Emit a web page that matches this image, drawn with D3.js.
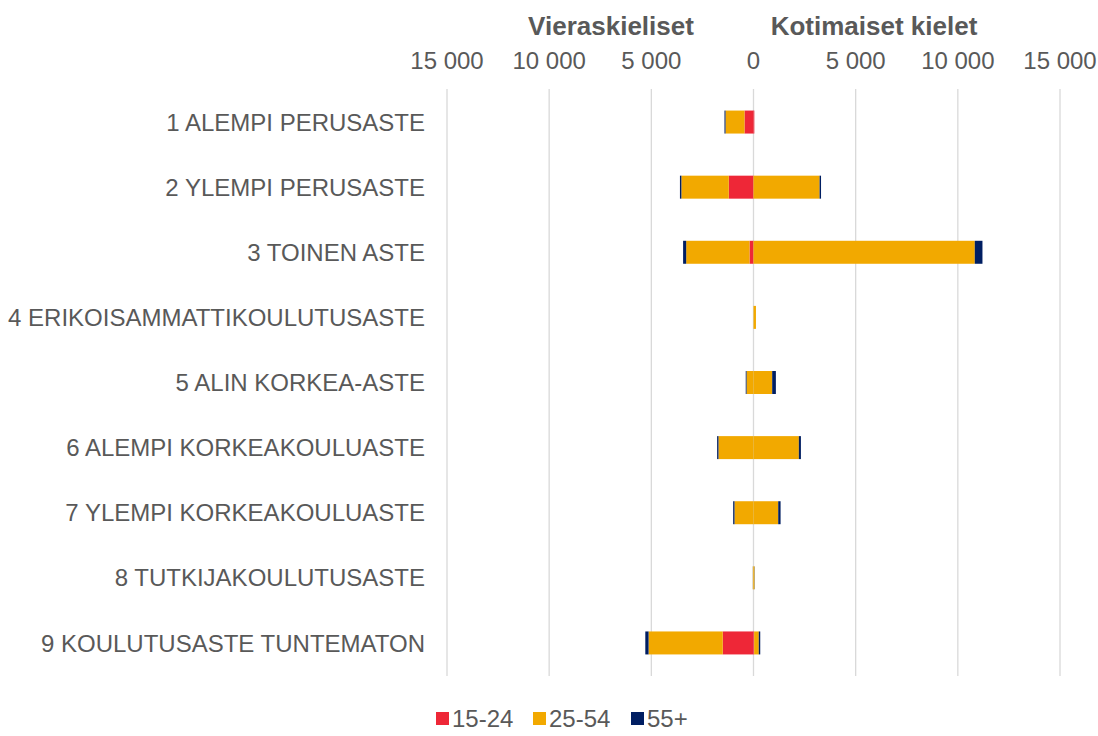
<!DOCTYPE html>
<html>
<head>
<meta charset="utf-8">
<script src="https://cdn.jsdelivr.net/npm/d3@7"></script>
<style>
  body { margin: 0; background: #fff; }
  text { font-family: "Liberation Sans", Arial, sans-serif; fill: #595959; }
</style>
</head>
<body>
<svg id="chart" width="1098" height="736"></svg>
<script>
var categories = [
    '1 ALEMPI PERUSASTE',
    '2 YLEMPI PERUSASTE',
    '3 TOINEN ASTE',
    '4 ERIKOISAMMATTIKOULUTUSASTE',
    '5 ALIN KORKEA-ASTE',
    '6 ALEMPI KORKEAKOULUASTE',
    '7 YLEMPI KORKEAKOULUASTE',
    '8 TUTKIJAKOULUTUSASTE',
    '9 KOULUTUSASTE TUNTEMATON'
];
var ageGroups = ['15-24', '25-54', '55+'];
var colors = ['#EE2737', '#F2A900', '#001E62'];

// Vieraskieliset (left side)
var foreign1524 = [440, 1210, 195, 0, 0, 0, 0, 0, 1505];
var foreign2554 = [930, 2320, 3100, 0, 340, 1715, 930, 30, 3630];
var foreign55 = [50, 70, 150, 0, 40, 65, 65, 5, 160];

// Kotimaiset kielet (right side)
var domestic1524 = [40, 0, 0, 0, 0, 0, 0, 0, 30];
var domestic2554 = [0, 3235, 10830, 120, 915, 2220, 1210, 50, 230];
var domestic55 = [0, 70, 375, 0, 180, 100, 115, 10, 70];

var tickValues = [-15000, -10000, -5000, 0, 5000, 10000, 15000];
var sideTitles = ['Vieraskieliset', 'Kotimaiset kielet'];

var svg = d3.select('#chart');

var x = d3.scaleLinear().domain([-15000, 15000]).range([447, 1060]);
var y = d3.scaleBand()
    .domain(categories)
    .range([89.5, 675.5])
    .paddingInner(0.647)
    .paddingOuter(0.3235);

var fmt = function (d) {
    return d3.format(',')(Math.abs(d)).replace(/,/g, ' ');
};

// grid
svg.append('g').attr('class', 'grid')
    .selectAll('line').data(tickValues).enter().append('line')
    .attr('x1', function (d) { return x(d); })
    .attr('x2', function (d) { return x(d); })
    .attr('y1', 89)
    .attr('y2', 676)
    .attr('stroke', '#d9d9d9')
    .attr('stroke-width', 1.3);

// tick labels
svg.append('g').attr('class', 'ticks')
    .selectAll('text').data(tickValues).enter().append('text')
    .attr('x', function (d) { return x(d); })
    .attr('y', 69)
    .attr('text-anchor', 'middle')
    .style('font-size', '24px')
    .text(fmt);

// side titles
svg.append('g').selectAll('text').data(sideTitles).enter().append('text')
    .attr('x', function (d, i) { return i === 0 ? 611 : 874; })
    .attr('y', 35)
    .attr('text-anchor', 'middle')
    .style('font-size', '26px')
    .style('font-weight', 'bold')
    .text(function (d) { return d; });

// stacks
var foreign = [foreign1524, foreign2554, foreign55];
var domestic = [domestic1524, domestic2554, domestic55];

function segments(sets, sign) {
    var out = [];
    categories.forEach(function (c, i) {
        var acc = 0;
        sets.forEach(function (s, k) {
            var v = s[i];
            if (v > 0) out.push({ cat: c, k: k, a: sign * acc, b: sign * (acc + v) });
            acc += v;
        });
    });
    return out;
}

var segs = segments(foreign, -1).concat(segments(domestic, 1));

svg.append('g').attr('class', 'bars')
    .selectAll('rect').data(segs).enter().append('rect')
    .attr('x', function (d) { return Math.min(x(d.a), x(d.b)); })
    .attr('width', function (d) { return Math.abs(x(d.b) - x(d.a)); })
    .attr('y', function (d) { return y(d.cat); })
    .attr('height', y.bandwidth())
    .attr('fill', function (d) { return colors[d.k]; });

// category labels
svg.append('g').attr('class', 'labels')
    .selectAll('text').data(categories).enter().append('text')
    .attr('x', 425)
    .attr('y', function (d) { return y(d) + y.bandwidth() / 2; })
    .attr('dy', '0.36em')
    .attr('text-anchor', 'end')
    .style('font-size', '24px')
    .text(function (d) { return d; });

// legend
var legend = svg.append('g').attr('class', 'legend')
    .selectAll('g').data(ageGroups).enter().append('g')
    .attr('transform', function (d, i) { return 'translate(' + [436, 533, 631][i] + ',0)'; });

legend.append('rect')
    .attr('x', 0).attr('y', 712)
    .attr('width', 13).attr('height', 13)
    .attr('fill', function (d, i) { return colors[i]; });

legend.append('text')
    .attr('x', 16).attr('y', 727)
    .style('font-size', '24px')
    .text(function (d) { return d; });
</script>
</body>
</html>
